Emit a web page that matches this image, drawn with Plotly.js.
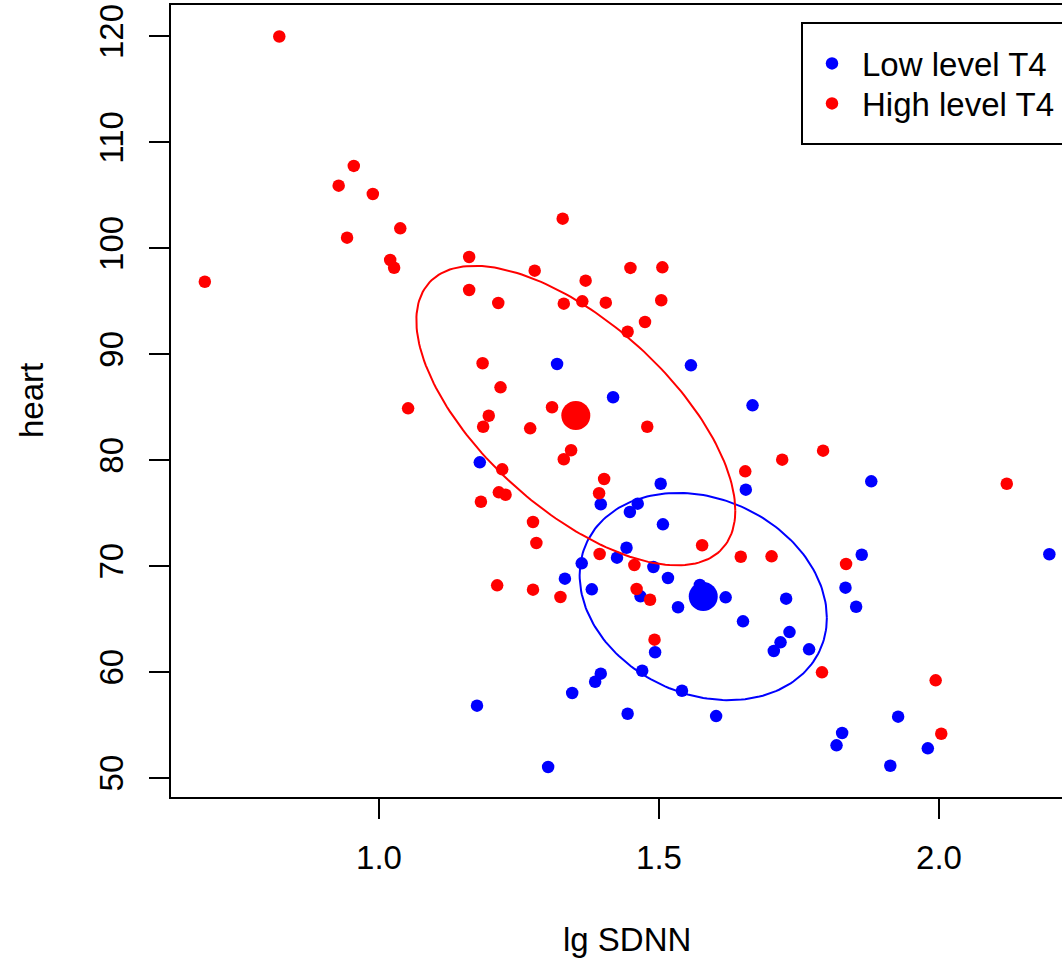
<!DOCTYPE html>
<html><head><meta charset="utf-8">
<script src="https://cdn.plot.ly/plotly-3.0.1.min.js"></script>
<style>html,body{margin:0;padding:0;background:#fff}</style>
</head><body><div id="chart" style="width:1062px;height:958px"></div>
<script>
// Low level T4 (blue)
const lowX = [1.318,1.557,1.418,1.180,1.503,1.396,1.462,1.448,1.507,1.442,1.425,1.362,1.490,1.516,1.332,1.380,1.467,1.573,1.534,1.493,1.470,1.396,1.386,1.345,1.541,1.175,1.444,1.602,1.302,1.667,1.655,1.879,1.862,2.197,1.833,1.619,1.727,1.852,1.650,1.733,1.717,1.705,1.768,1.927,1.827,1.817,1.980,1.913];
const lowY = [89.08,88.96,85.94,79.80,77.78,75.84,75.90,75.11,73.95,71.74,70.80,70.27,69.92,68.88,68.82,67.81,67.15,68.22,66.12,61.87,60.13,59.85,59.09,58.03,58.24,56.83,56.07,55.85,51.04,85.18,77.22,78.01,71.08,71.12,67.97,67.06,66.93,66.17,64.79,63.78,62.81,61.99,62.15,55.79,54.25,53.09,52.80,51.16];
// High level T4 (red)
const highX = [0.822,0.689,0.928,0.955,0.989,0.943,1.038,1.020,1.027,1.052,1.161,1.161,1.213,1.328,1.278,1.369,1.330,1.363,1.405,1.449,1.506,1.504,1.475,1.444,1.185,1.217,1.196,1.186,1.309,1.270,1.479,1.343,1.330,1.220,1.402,1.393,1.214,1.226,1.182,1.275,1.281,1.577,1.394,1.456,1.211,1.275,1.324,1.460,1.484,1.492,1.793,1.720,1.654,2.121,1.646,1.701,1.834,1.791,1.994,2.004];
const highY = [120.0,96.85,105.92,107.78,105.13,101.01,101.89,98.90,98.17,84.90,99.18,96.07,94.84,102.80,97.89,96.95,94.78,95.00,94.87,98.15,98.21,95.10,93.05,92.13,89.15,86.88,84.20,83.16,85.00,83.01,83.16,80.94,80.09,79.14,78.23,76.88,76.97,76.74,76.08,74.17,72.19,71.97,71.15,70.11,68.19,67.78,67.09,67.84,66.83,63.06,80.90,80.05,78.95,77.78,70.89,70.93,70.20,59.98,59.22,54.18];

const seriesNames = ['Low level T4','High level T4'];
const seriesColors = ['#0000FF','#FF0000'];
const xTickVals = [1.0,1.5,2.0];
const xTickText = ['1.0','1.5','2.0'];
const yTickVals = [50,60,70,80,90,100,110,120];
const yTickText = ['50','60','70','80','90','100','110','120'];
const xLabel = 'lg SDNN';
const yLabel = 'heart';

function stats(xs, ys){
  const n = xs.length;
  const mx = xs.reduce((a,b)=>a+b,0)/n, my = ys.reduce((a,b)=>a+b,0)/n;
  let sxx=0, syy=0, sxy=0;
  for(let i=0;i<n;i++){const dx=xs[i]-mx, dy=ys[i]-my; sxx+=dx*dx; syy+=dy*dy; sxy+=dx*dy;}
  return {mx, my, sxx:sxx/(n-1), syy:syy/(n-1), sxy:sxy/(n-1)};
}
function ellipse(xs, ys, k){
  const s = stats(xs, ys);
  const a = Math.sqrt(s.sxx), b = s.sxy/a, c = Math.sqrt(s.syy - b*b);
  const ex=[], ey=[];
  for(let i=0;i<=200;i++){
    const t = 2*Math.PI*i/200, u=Math.cos(t), v=Math.sin(t);
    ex.push(s.mx + k*a*u); ey.push(s.my + k*(b*u + c*v));
  }
  return {ex, ey, mx:s.mx, my:s.my};
}

const FS = 33;
const font = 'Liberation Sans, Arial, Helvetica, sans-serif';
const legendIds = ['legend','legend2'];
const groups = [[lowX, lowY],[highX, highY]];
const traces = [];
groups.forEach((g,i)=>{
  traces.push({type:'scatter', mode:'markers', x:g[0], y:g[1], name:seriesNames[i], legend:legendIds[i],
    marker:{color:seriesColors[i], size:12.5, line:{width:0}}});
});
groups.forEach((g,i)=>{
  const e = ellipse(g[0], g[1], 1.0);
  traces.push({type:'scatter', mode:'lines', x:e.ex, y:e.ey, showlegend:false,
    line:{color:seriesColors[i], width:2}, hoverinfo:'skip'});
  traces.push({type:'scatter', mode:'markers', x:[e.mx], y:[e.my], showlegend:false,
    marker:{color:seriesColors[i], size:29, line:{width:0}}});
});

const L=171, T=5, R=1062, B=797, W=1062, H=958;
const pw = R-L, ph = B-T;
const px = p => (p-L)/pw, py = p => 1-(p-T)/ph;

function legendAt(yc){
  return {x:px(802), xanchor:'left', y:py(yc), yanchor:'middle', bgcolor:'rgba(0,0,0,0)',
    borderwidth:0, font:{family:font, size:FS, color:'#000'}, itemwidth:50};
}

const layout = {
  width:W, height:H, paper_bgcolor:'#fff', plot_bgcolor:'#fff',
  margin:{l:L, t:T, r:W-R, b:H-B, autoexpand:false},
  font:{family:font, size:FS, color:'#000'},
  showlegend:true,
  legend:legendAt(63.5),
  legend2:legendAt(103.5),
  xaxis:{range:[0.6286, 2.2196], tickmode:'array', tickvals:xTickVals, ticktext:xTickText,
    showgrid:false, zeroline:false, showline:true, mirror:true, linecolor:'#000', linewidth:2,
    ticks:'outside', ticklen:20, tickwidth:2, tickcolor:'#000', automargin:false,
    tickfont:{family:font, size:FS, color:'#000'}},
  yaxis:{range:[48.21, 122.97], tickmode:'array', tickvals:yTickVals, ticktext:yTickText,
    showgrid:false, zeroline:false, showline:true, mirror:false, linecolor:'#000', linewidth:2,
    ticks:'outside', ticklen:20, tickwidth:2, tickcolor:'#000', tickangle:-90, automargin:false,
    tickfont:{family:font, size:FS, color:'#000'}},
  shapes:[{type:'rect', xref:'paper', yref:'paper', x0:px(802), x1:px(1200), y0:py(144), y1:py(23),
    line:{color:'#000', width:2}, fillcolor:'rgba(0,0,0,0)', layer:'above'}],
  annotations:[
    {text:xLabel, xref:'paper', yref:'paper', x:px(627), y:py(939), xanchor:'center', yanchor:'middle', showarrow:false, font:{family:font, size:FS, color:'#000'}},
    {text:yLabel, xref:'paper', yref:'paper', x:px(31), y:py(401), xanchor:'center', yanchor:'middle', textangle:-90, showarrow:false, font:{family:font, size:FS, color:'#000'}}
  ]
};

// target: x tick label cap-top at 845px; y tick label baseline at x=123px
Plotly.newPlot('chart', traces, layout, {displayModeBar:false, staticPlot:true}).then(gd => {
  const root = gd.getBoundingClientRect();
  const xt = gd.querySelector('.xtick text');
  const yt = gd.querySelector('.ytick text');
  const upd = {};
  if (xt) {
    const r = xt.getBoundingClientRect();
    const baseline = r.bottom - root.top - 0.212*FS;
    const d = (845 + 0.716*FS) - baseline;
    if (d > 0) upd['xaxis.ticklabelstandoff'] = Math.round(d);
  }
  if (yt) {
    const r = yt.getBoundingClientRect();
    const baseline = r.right - root.left - 0.212*FS;
    const d = baseline - 123;
    if (d > 0) upd['yaxis.ticklabelstandoff'] = Math.round(d);
  }
  return Plotly.relayout(gd, upd);
});
</script></body></html>
